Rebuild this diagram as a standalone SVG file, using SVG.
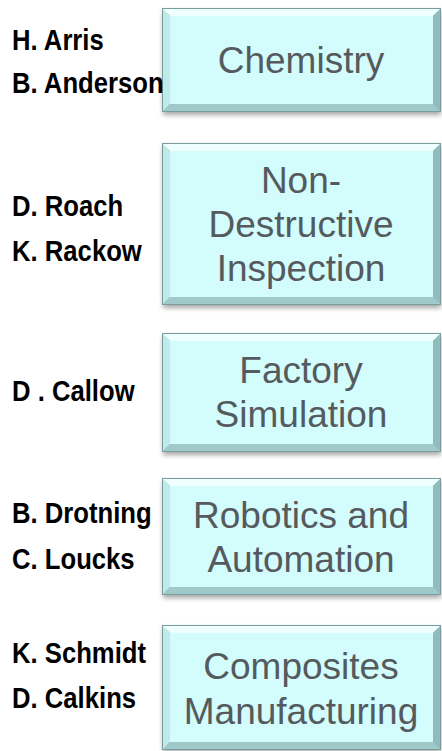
<svg xmlns="http://www.w3.org/2000/svg" width="442" height="751" viewBox="0 0 442 751">
<style>
.face{fill:#d3fcfc}
.bt{fill:#eeffff}
.bl{fill:#bfeaea}
.br{fill:#8fbcbc}
.bb{fill:#a0c9c9}
.edge{fill:none;stroke:#7a9c9c;stroke-width:1}
.shadow{fill:#000;opacity:0.35;filter:url(#blur)}
.lbl{font-family:"Liberation Sans",Arial,sans-serif;font-size:37px;fill:#555a5e;text-anchor:middle}
.nm{font-family:"Liberation Sans Narrow","Arial Narrow","Liberation Sans",sans-serif;font-size:29px;font-weight:bold;fill:#000}
</style>
<defs>
<filter id="blur" x="-10%" y="-20%" width="120%" height="140%"><feGaussianBlur stdDeviation="2.5"/></filter>
</defs>
<rect width="442" height="751" fill="#fff"/>
<g id="connectors"></g>

<g id="chemistry">
<rect class="shadow" x="163" y="11" width="278" height="104"/>
<rect class="face" x="170" y="16" width="263" height="88"/>
<polygon class="bt" points="162,8 441,8 433,16 170,16"/>
<polygon class="bl" points="162,8 170,16 170,104 162,112"/>
<polygon class="br" points="441,8 441,112 433,104 433,16"/>
<polygon class="bb" points="162,112 441,112 433,104 170,104"/>
<rect class="edge" x="162.5" y="8.5" width="278" height="103"/>
<text class="lbl" x="301" y="73">Chemistry</text>
<g transform="scale(0.885,1)">
<text class="nm" x="13.6" y="50">H. Arris</text>
<text class="nm" x="13.6" y="93">B. Anderson</text>
</g>
</g>

<g id="ndi">
<rect class="shadow" x="163" y="146" width="278" height="162"/>
<rect class="face" x="170" y="151" width="263" height="146"/>
<polygon class="bt" points="162,143 441,143 433,151 170,151"/>
<polygon class="bl" points="162,143 170,151 170,297 162,305"/>
<polygon class="br" points="441,143 441,305 433,297 433,151"/>
<polygon class="bb" points="162,305 441,305 433,297 170,297"/>
<rect class="edge" x="162.5" y="143.5" width="278" height="161"/>
<text class="lbl" x="301" y="193">Non-</text>
<text class="lbl" x="301" y="237">Destructive</text>
<text class="lbl" x="301" y="281">Inspection</text>
<g transform="scale(0.885,1)">
<text class="nm" x="13.6" y="216">D. Roach</text>
<text class="nm" x="13.6" y="261">K. Rackow</text>
</g>
</g>

<g id="factory">
<rect class="shadow" x="163" y="336" width="278" height="119"/>
<rect class="face" x="170" y="341" width="263" height="103"/>
<polygon class="bt" points="162,333 441,333 433,341 170,341"/>
<polygon class="bl" points="162,333 170,341 170,444 162,452"/>
<polygon class="br" points="441,333 441,452 433,444 433,341"/>
<polygon class="bb" points="162,452 441,452 433,444 170,444"/>
<rect class="edge" x="162.5" y="333.5" width="278" height="118"/>
<text class="lbl" x="301" y="383">Factory</text>
<text class="lbl" x="301" y="427">Simulation</text>
<g transform="scale(0.885,1)">
<text class="nm" x="13.6" y="401">D . Callow</text>
</g>
</g>

<g id="robotics">
<rect class="shadow" x="163" y="481" width="278" height="117"/>
<rect class="face" x="170" y="486" width="263" height="101"/>
<polygon class="bt" points="162,478 441,478 433,486 170,486"/>
<polygon class="bl" points="162,478 170,486 170,587 162,595"/>
<polygon class="br" points="441,478 441,595 433,587 433,486"/>
<polygon class="bb" points="162,595 441,595 433,587 170,587"/>
<rect class="edge" x="162.5" y="478.5" width="278" height="116"/>
<text class="lbl" x="301" y="528">Robotics and</text>
<text class="lbl" x="301" y="572">Automation</text>
<g transform="scale(0.885,1)">
<text class="nm" x="13.6" y="523">B. Drotning</text>
<text class="nm" x="13.6" y="569">C. Loucks</text>
</g>
</g>

<g id="composites">
<rect class="shadow" x="163" y="628" width="278" height="124"/>
<rect class="face" x="170" y="633" width="263" height="109"/>
<polygon class="bt" points="162,625 441,625 433,633 170,633"/>
<polygon class="bl" points="162,625 170,633 170,742 162,750"/>
<polygon class="br" points="441,625 441,750 433,742 433,633"/>
<polygon class="bb" points="162,750 441,750 433,742 170,742"/>
<rect class="edge" x="162.5" y="625.5" width="278" height="124"/>
<text class="lbl" x="301" y="679">Composites</text>
<text class="lbl" x="301" y="724">Manufacturing</text>
<g transform="scale(0.885,1)">
<text class="nm" x="13.6" y="663">K. Schmidt</text>
<text class="nm" x="13.6" y="708">D. Calkins</text>
</g>
</g>
</svg>
